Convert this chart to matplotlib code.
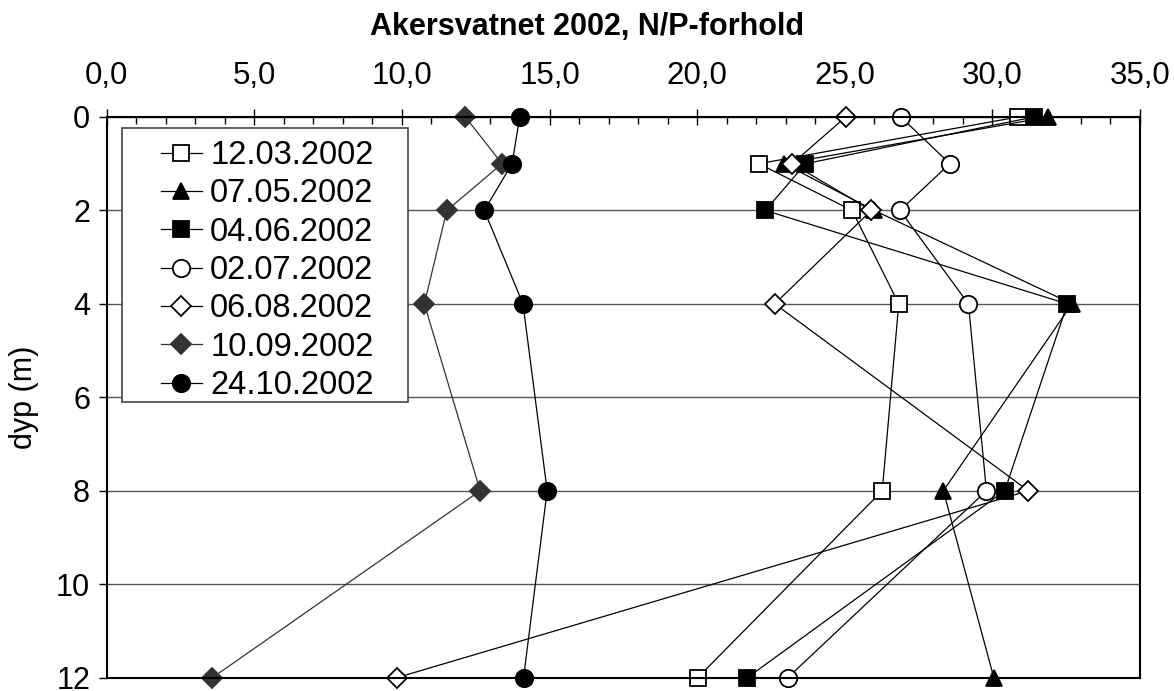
import numpy as np
import matplotlib.pyplot as plt
from matplotlib.ticker import MultipleLocator, FuncFormatter
from matplotlib.patches import Rectangle

plt.rcParams['font.family'] = ['Liberation Sans', 'DejaVu Sans']

# Dyp (m) og N/P-forhold per prøvedato
dyp = [0, 1, 2, 4, 8, 12]
datoer = ['12.03.2002', '07.05.2002', '04.06.2002', '02.07.2002',
          '06.08.2002', '10.09.2002', '24.10.2002']
np_0312 = [30.87, 22.09, 25.25, 26.83, 26.27, 20.02]
np_0705 = [31.90, 22.94, 26.00, 32.70, 28.34, 30.05]
np_0406 = [31.40, 23.67, 22.31, 32.54, 30.42, 21.70]
np_0207 = [26.90, 28.56, 26.87, 29.19, 29.80, 23.07]
np_0608 = [25.03, 23.22, 25.90, 22.63, 31.22, 9.83]
np_1009 = [12.15, 13.39, 11.52, 10.76, 12.65, 3.58]
np_2410 = [13.99, 13.73, 12.79, 14.10, 14.92, 14.12]

serier = [np_0312, np_0705, np_0406, np_0207, np_0608, np_1009, np_2410]
stiler = [
    dict(marker='s', mfc='white', mec='black', ms=11, color='black'),
    dict(marker='^', mfc='black', mec='black', ms=12, color='black'),
    dict(marker='s', mfc='black', mec='black', ms=11, color='black'),
    dict(marker='o', mfc='white', mec='black', ms=12.5, color='black'),
    dict(marker='D', mfc='white', mec='black', ms=10, color='black'),
    dict(marker='D', mfc='#333333', mec='#333333', ms=10, color='#333333'),
    dict(marker='o', mfc='black', mec='black', ms=12.5, color='black'),
]

fig = plt.figure(figsize=(11.74, 6.91), dpi=100)
ax = fig.add_axes([0.0909, 0.0193, 0.8801, 0.8114])

for verdier, navn, st in zip(serier, datoer, stiler):
    ax.plot(verdier, dyp, lw=0.9, mew=1.3, label=navn, clip_on=False, **st)

ax.set_xlim(0, 35)
ax.set_ylim(12, 0)
ax.xaxis.set_ticks_position('top')
ax.xaxis.set_label_position('top')
ax.xaxis.set_major_locator(MultipleLocator(5))
ax.xaxis.set_minor_locator(MultipleLocator(1))
ax.xaxis.set_major_formatter(FuncFormatter(lambda v, p: f'{v:.1f}'.replace('.', ',')))
ax.yaxis.set_major_locator(MultipleLocator(2))
ax.tick_params(axis='x', which='major', direction='inout', length=12, width=1,
               labelsize=22.5, pad=13)
ax.tick_params(axis='x', which='minor', direction='in', length=5, width=1)
ax.tick_params(axis='y', which='major', direction='out', length=6, width=1,
               labelsize=22, pad=6)
ax.grid(axis='y', color='#555555', lw=1)
ax.set_axisbelow(True)
for s in ax.spines.values():
    s.set_linewidth(1.5)
    s.set_color('black')

ax.set_ylabel('dyp (m)', fontsize=22)
ax.yaxis.set_label_coords(-0.066, 0.5)
fig.text(0.5, 0.961, 'Akersvatnet 2002, N/P-forhold', ha='center', va='center',
         fontsize=22, fontweight='bold')

# legenderamme som i originalen
ax.add_patch(Rectangle((0.0148, 0.492), 0.2768, 0.488, transform=ax.transAxes,
                       facecolor='white', edgecolor='#444444', lw=1.2, zorder=4))
leg = ax.legend(loc='upper left', bbox_to_anchor=(0.0523, 0.959), fontsize=23.5,
                frameon=False, handlelength=1.26, handletextpad=0.25,
                labelspacing=0.225, borderpad=0, borderaxespad=0)
leg.set_zorder(5)

fig.savefig('out.png', dpi=100)
